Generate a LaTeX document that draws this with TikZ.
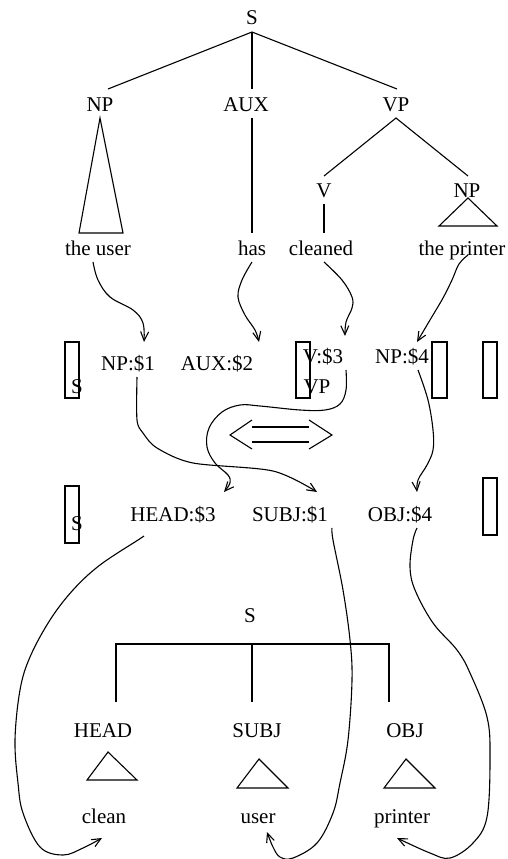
\documentclass[tikz,border=0pt]{standalone}
\usepackage{fontspec}
\setmainfont{Liberation Serif}
\usetikzlibrary{arrows.meta}
\begin{document}
\begin{tikzpicture}[x=1pt,y=-1pt,line width=1.1pt,
  lbl/.style={inner sep=0pt,anchor=base,font=\fontsize{21}{25}\selectfont},
  link/.style={-{Straight Barb[length=9pt,width=8pt,line width=1.1pt]}},
  slot/.style={draw,line width=1.1pt}]
\useasboundingbox (0,0) rectangle (507,859);
% ---------- upper tree ----------
\node[lbl] (S) at (252,25) {S};
\node[lbl] (NP) at (100,111) {NP};
\node[lbl] (AUX) at (246,111) {AUX};
\node[lbl] (VP) at (396,111) {VP};
\node[lbl] (V) at (324,197) {V};
\node[lbl] (NPb) at (467,197) {NP};
\node[lbl] (wuser) at (98,255) {the user};
\node[lbl] (whas) at (252,255) {has};
\node[lbl] (wcleaned) at (321,255) {cleaned};
\node[lbl] (wprinter) at (462,255) {the printer};
\coordinate (sapex) at (252,32);
\draw (108,89) -- (sapex) -- (397,89);
\draw (sapex) -- (252,89);
\draw (100,118) -- (79,233) -- (123,233) -- cycle;
\draw (252,118) -- (252,233);
\coordinate (vpapex) at (396,118);
\draw (324,176) -- (vpapex) -- (468,176);
\draw (324,204) -- (324,233);
\draw (468,198) -- (439,226) -- (497,226) -- cycle;
% ---------- middle rows ----------
\node[lbl] (np1) at (128,370) {NP:\$1};
\node[lbl] (aux2) at (217,370) {AUX:\$2};
\node[lbl] (v3) at (323,363) {V:\$3};
\node[lbl] (vp) at (317,393) {VP};
\node[lbl] (s2) at (77,393) {S};
\node[lbl] (np4) at (402,363) {NP:\$4};
\node[lbl] (head3) at (173,521) {HEAD:\$3};
\node[lbl] (subj1) at (290,521) {SUBJ:\$1};
\node[lbl] (obj4) at (400,521) {OBJ:\$4};
\node[lbl] (s3) at (77,530) {S};
\draw[slot] (65,342) rectangle (79,398);
\draw[slot] (296,342) rectangle (310,398);
\draw[slot] (432,342) rectangle (447,398);
\draw[slot] (483,342) rectangle (497,398);
\draw[slot] (65,486) rectangle (79,543);
\draw[slot] (483,478) rectangle (497,535);
% double arrow
\draw (252,420) -- (230,435) -- (252,449);
\draw (309,420) -- (332,435) -- (309,449);
\draw (252,427) -- (309,427);
\draw (252,442) -- (309,442);
% arrows from words to row 2
\draw[link] plot[smooth,tension=0.6] coordinates {(93,262) (98,280) (110,297) (133,310) (143,323) (144,342)};
\draw[link] plot[smooth,tension=0.6] coordinates {(252,262) (242,280) (238,297) (245,315) (255,330) (259,342)};
\draw[link] plot[smooth,tension=0.6] coordinates {(324,262) (342,280) (352,297) (352,308) (346,322) (345,336)};
\draw[link] plot[smooth,tension=0.6] coordinates {(468,255) (459,264) (452,280) (443,298) (430,320) (417,342)};
% arrows from row 2 to row 3
\draw[link] plot[smooth,tension=0.5] coordinates {(137,377) (137,420) (143,433) (157,448) (193,463) (273,471) (317,492)};
\draw[link] plot[smooth,tension=0.6] coordinates {(346,370) (346,390) (340,404) (325,410) (300,410) (260,406) (240,405) (222,412) (209,428) (207,447) (215,463) (228,475) (230,483) (224,492)};
\draw[link] plot[smooth,tension=0.6] coordinates {(418,370) (428,400) (433,430) (433,450) (427,465) (418,480) (417,492)};
% ---------- lower tree ----------
\node[lbl] (Sb) at (250,622) {S};
\node[lbl] (HEAD) at (103,737) {HEAD};
\node[lbl] (SUBJ) at (257,737) {SUBJ};
\node[lbl] (OBJ) at (405,737) {OBJ};
\node[lbl] (clean) at (104,823) {clean};
\node[lbl] (user) at (258,823) {user};
\node[lbl] (printer) at (402,823) {printer};
\draw (116,702) -- (116,644) -- (389,644) -- (389,702);
\draw (252,644) -- (252,702);
\draw (108,752) -- (87,780) -- (137,780) -- cycle;
\draw (259,759) -- (237,788) -- (288,788) -- cycle;
\draw (406,759) -- (384,788) -- (435,788) -- cycle;
% long arrows from row 3 to lower words
\draw[link] plot[smooth,tension=0.6] coordinates {(144,536) (138,540) (100,565) (73,590) (50,620) (30,657) (20,690) (15,740) (18,783) (23,813) (40,847) (63,855) (83,848) (102,838)};
\draw[link] plot[smooth,tension=0.6] coordinates {(332,528) (333,540) (343,590) (350,640) (352,680) (348,740) (340,783) (333,813) (317,843) (293,858) (280,857) (273,847) (267,832)};
\draw[link] plot[smooth,tension=0.6] coordinates {(417,528) (413,540) (410,567) (415,590) (433,623) (457,650) (470,673) (487,717) (490,757) (487,817) (473,843) (450,858) (430,853) (397,838)};
\end{tikzpicture}
\end{document}
